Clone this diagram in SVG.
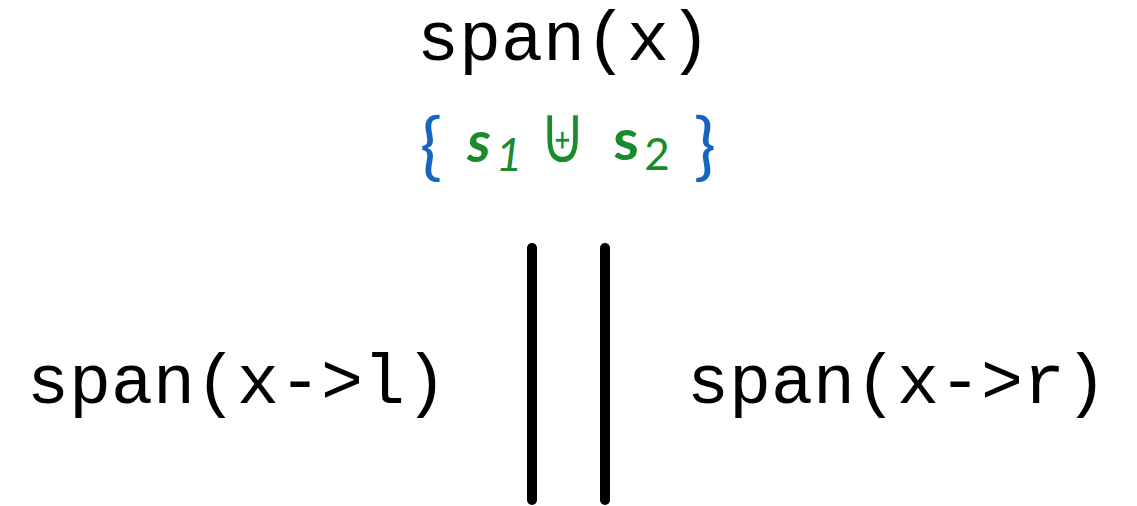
<svg xmlns="http://www.w3.org/2000/svg" width="1137" height="506" viewBox="0 0 1137 506">
  <style>
    .code { font-family: "Liberation Mono", "Courier New", monospace; font-size: 70px; fill: #000; }
    .set { font-family: Lato, "Open Sans", sans-serif; fill: #1b8a2a; }
    .brace { font-family: Lato, "Open Sans", sans-serif; fill: #1565c0; font-size: 74px; }
    .op { font-family: "DejaVu Sans", sans-serif; font-size: 66px; fill: #1b8a2a; stroke: #fff; stroke-width: 0.8px; }
    .bar { stroke: #000; stroke-width: 10; stroke-linecap: round; }
  </style>
  <rect width="1137" height="506" fill="#fff"/>

  <g id="node-parent">
    <text class="code" x="564" y="60" text-anchor="middle">span(x)</text>
    <text class="brace" x="431" y="171" text-anchor="middle">{</text>
    <text class="set" x="479" y="162" text-anchor="middle" font-size="58" font-weight="bold" font-style="italic">s</text>
    <text class="set" x="509" y="171" text-anchor="middle" font-size="46" font-family="'Open Sans', sans-serif" font-style="italic">1</text>
    <!-- multiset union, stretched upright -->
    <text class="op" transform="translate(562.5,163) scale(1,1.25)" x="0" y="0" text-anchor="middle">⊎</text>
    <text class="set" x="626" y="160" text-anchor="middle" font-size="58" font-weight="bold">s</text>
    <text class="set" x="657" y="170" text-anchor="middle" font-size="44">2</text>
    <text class="brace" x="705" y="171" text-anchor="middle">}</text>
  </g>

  <g id="node-left">
    <text class="code" x="237" y="403" text-anchor="middle">span(x-&gt;l)</text>
  </g>

  <g id="node-right">
    <text class="code" x="897" y="403" text-anchor="middle">span(x-&gt;r)</text>
  </g>

  <g id="connectors">
    <line class="bar" x1="532" y1="248" x2="532" y2="500"/>
    <line class="bar" x1="605" y1="248" x2="605" y2="500"/>
  </g>
</svg>
